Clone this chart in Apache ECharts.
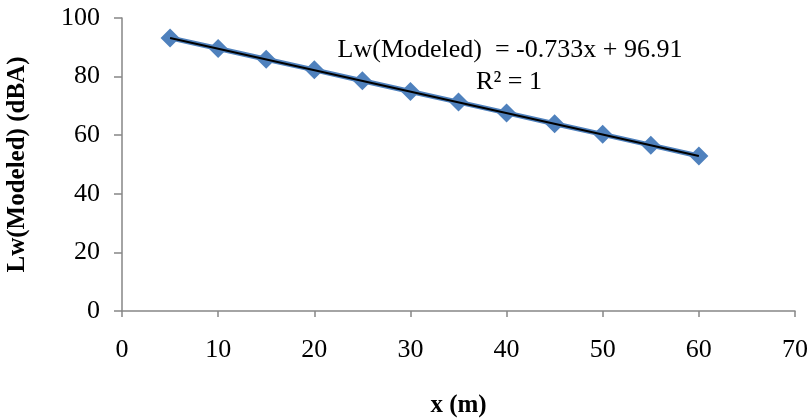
<!DOCTYPE html>
<html>
<head>
<meta charset="utf-8">
<script src="https://cdn.jsdelivr.net/npm/echarts@6/dist/echarts.min.js"></script>
<style>
html,body{margin:0;padding:0;background:#fff;}
#chart{width:812px;height:418px;}
</style>
</head>
<body>
<div id="chart"></div>
<script>
const xValues = [5, 10, 15, 20, 25, 30, 35, 40, 45, 50, 55, 60];
const lwModeled = [93.2, 89.6, 85.9, 82.3, 78.6, 74.9, 71.3, 67.6, 63.9, 60.3, 56.6, 52.9];
const trendX = [5, 60];
const trendY = [93.2, 52.9];
const xTitle = 'x (m)';
const yTitle = 'Lw(Modeled) (dBA)';
const equationText = 'Lw(Modeled)  = -0.733x + 96.91';
const r2Text = 'R² = 1';

const font = '"Liberation Serif", "Times New Roman", serif';
const axisColor = '#868686';

const chart = echarts.init(document.getElementById('chart'), null, {renderer: 'canvas'});
chart.setOption({
  animation: false,
  backgroundColor: '#fff',
  grid: {left: 122, right: 17, top: 18, bottom: 107, containLabel: false, outerBoundsMode: 'none'},
  xAxis: {
    type: 'value', min: 0, max: 70, interval: 10,
    name: xTitle, nameLocation: 'middle', nameGap: 82,
    nameTextStyle: {fontFamily: font, fontWeight: 'bold', fontSize: 25, color: '#000'},
    axisLine: {show: true, onZero: false, lineStyle: {color: axisColor, width: 1.5}},
    axisTick: {show: true, inside: false, length: 6, lineStyle: {color: axisColor, width: 1.5}},
    axisLabel: {fontFamily: font, fontSize: 26, color: '#000', margin: 26},
    splitLine: {show: false}
  },
  yAxis: {
    type: 'value', min: 0, max: 100, interval: 20,
    name: yTitle, nameLocation: 'middle', nameGap: 92, nameRotate: 90,
    nameTextStyle: {fontFamily: font, fontWeight: 'bold', fontSize: 25, color: '#000'},
    axisLine: {show: true, lineStyle: {color: axisColor, width: 1.5}},
    axisTick: {show: true, inside: false, length: 8, lineStyle: {color: axisColor, width: 1.5}},
    axisLabel: {fontFamily: font, fontSize: 26, color: '#000', margin: 22},
    splitLine: {show: false}
  },
  series: [
    {
      type: 'line',
      data: xValues.map((x, i) => [x, lwModeled[i]]),
      symbol: 'diamond', symbolSize: 19,
      itemStyle: {color: '#4F81BD'},
      lineStyle: {color: '#4F81BD', width: 5},
      z: 2
    },
    {
      type: 'line',
      data: trendX.map((x, i) => [x, trendY[i]]),
      symbol: 'none',
      lineStyle: {color: '#000', width: 2},
      z: 3
    }
  ],
  graphic: [
    {type: 'text', x: 510, y: 50, style: {text: equationText, font: '26px ' + font, fill: '#000', textAlign: 'center', textVerticalAlign: 'middle'}},
    {type: 'text', x: 509, y: 82, style: {text: r2Text, font: '26px ' + font, fill: '#000', textAlign: 'center', textVerticalAlign: 'middle'}}
  ]
});
</script>
</body>
</html>
